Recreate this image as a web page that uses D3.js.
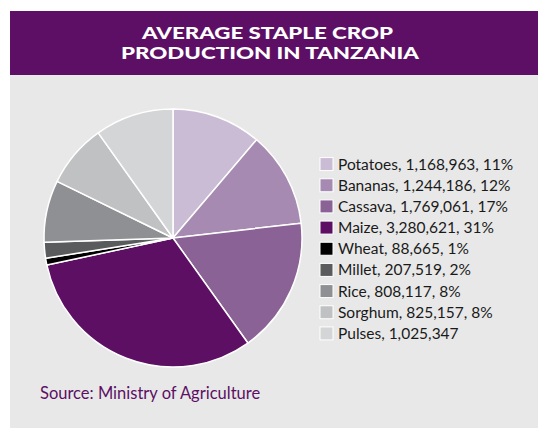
<!DOCTYPE html>
<html><head><meta charset="utf-8">
<script src="https://cdn.jsdelivr.net/npm/d3@7"></script>
<style>html,body{margin:0;padding:0;background:#fff;}svg{display:block;}</style>
</head><body>
<svg id="c" width="538" height="428"></svg>
<script>
const categories = ["Potatoes","Bananas","Cassava","Maize","Wheat","Millet","Rice","Sorghum","Pulses"];
const values = [1168963,1244186,1769061,3280621,88665,207519,808117,825157,1025347];
const legendLabels = ["Potatoes, 1,168,963, 11%","Bananas, 1,244,186, 12%","Cassava, 1,769,061, 17%","Maize, 3,280,621, 31%","Wheat, 88,665, 1%","Millet, 207,519, 2%","Rice, 808,117, 8%","Sorghum, 825,157, 8%","Pulses, 1,025,347"];
const colors = ["#cbbcd6","#a68ab1","#8a6295","#5c0f63","#000000","#5a5b5d","#8f9093","#c0c1c3","#d4d5d7"];
const titleLines = ["AVERAGE STAPLE CROP","PRODUCTION IN TANZANIA"];
const titleWidths = [251, 298];
const sourceText = "Source: Ministry of Agriculture";

const svg = d3.select("#c");
const font = "Lato, 'Open Sans', sans-serif";

svg.append("rect").attr("x",10).attr("y",11).attr("width",528).attr("height",417).attr("fill","#e8e8e8");
svg.append("rect").attr("x",10).attr("y",11).attr("width",528).attr("height",64).attr("fill","#5c0f64");

svg.selectAll("text.title").data(titleLines).join("text")
  .attr("class","title")
  .attr("x",(d,i)=>[267.5,270][i]).attr("y",(d,i)=>38.5+i*20)
  .attr("text-anchor","middle")
  .attr("fill","#fff").attr("font-family",font).attr("font-weight","900")
  .attr("font-size",16.5)
  .attr("textLength",(d,i)=>titleWidths[i]).attr("lengthAdjust","spacingAndGlyphs")
  .text(d=>d);

const cx = 173, cy = 238, r = 129;
const pie = d3.pie().sort(null).value(d=>d);
const arc = d3.arc().innerRadius(0).outerRadius(r);
const g = svg.append("g").attr("transform",`translate(${cx},${cy})`);
g.selectAll("path").data(pie(values)).join("path")
  .attr("d",arc)
  .attr("fill",(d,i)=>colors[i])
  .attr("stroke","#fff").attr("stroke-width",1.5).attr("stroke-linejoin","round");

const ly = d3.scaleBand().domain(categories).range([153.5, 344]).paddingInner(0);
const leg = svg.append("g");
const rows = leg.selectAll("g").data(categories).join("g")
  .attr("transform",d=>`translate(320,${ly(d)})`);
rows.append("rect").attr("x",0).attr("y",ly.bandwidth()/2-6.5).attr("width",13).attr("height",13)
  .attr("fill",(d,i)=>colors[i]).attr("stroke","#fff").attr("stroke-width",1);
rows.append("text").attr("x",18).attr("y",ly.bandwidth()/2+5.5)
  .attr("font-family",font).attr("font-size",15.5).attr("fill","#1a1a1a")
  .text((d,i)=>legendLabels[i]);

svg.append("text").attr("x",40).attr("y",399)
  .attr("font-family",font).attr("font-size",16.5).attr("fill","#5c0f64")
  .text(sourceText);
</script>
</body></html>
